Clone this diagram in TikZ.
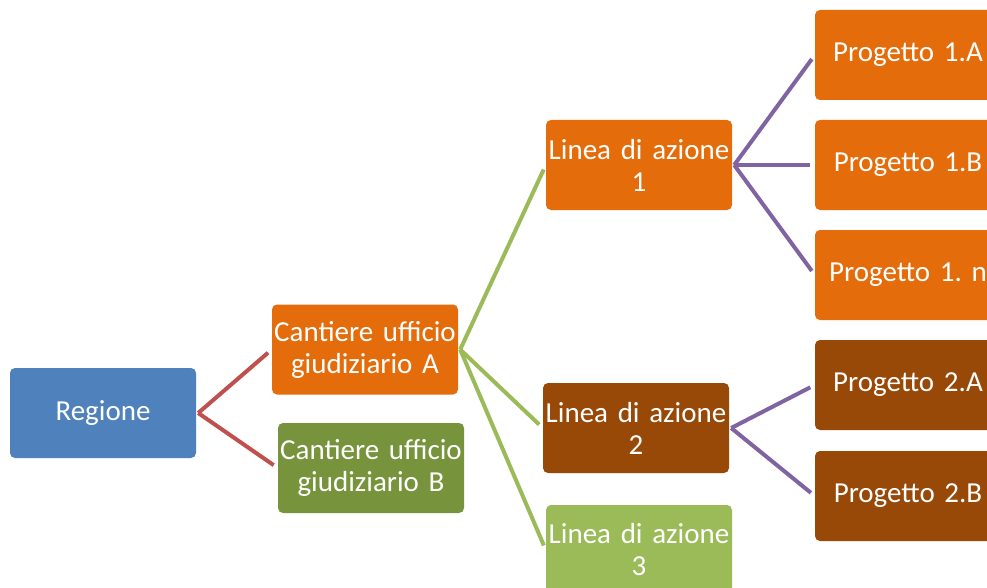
\documentclass[tikz,border=0pt]{standalone}
\usepackage{fontspec}
\setmainfont{Carlito}
\frenchspacing
\definecolor{regblue}{HTML}{4F81BD}
\definecolor{orangeA}{HTML}{E46C0A}
\definecolor{brownB}{HTML}{984807}
\definecolor{greenB}{HTML}{77933C}
\definecolor{lightgreen}{HTML}{9BBB59}
\definecolor{redline}{HTML}{C0504D}
\definecolor{purpleline}{HTML}{8064A2}
\begin{document}
\begin{tikzpicture}[x=1pt,y=-1pt,
  box/.style={rounded corners=5pt,minimum width=186pt,minimum height=90pt,inner sep=0pt,
    text width=184pt,align=center,text=white,font=\fontsize{29}{32}\selectfont},
  link/.style={line width=4pt,shorten >=5pt}]
\useasboundingbox (0,0) rectangle (987,588);
\clip (0,0) rectangle (987,588);

% the boxes
\node[box,fill=regblue] (reg) at (103,413) {Regione};
\node[box,fill=orangeA] (caA) at (365,349.5) {Cantiere ufficio\\giudiziario A};
\node[box,fill=greenB] (caB) at (371,468) {Cantiere ufficio\\giudiziario B};
\node[box,fill=orangeA] (lin1) at (639,165) {Linea di azione\\1};
\node[box,fill=brownB] (lin2) at (636,428) {Linea di azione\\2};
\node[box,fill=lightgreen] (lin3) at (639,550) {Linea di azione\\3};

\foreach \name/\y/\txt/\col in {p1a/55/1.A/orangeA,p1b/165/1.B/orangeA,p1n/275/1. n/orangeA,p2a/385/2.A/brownB,p2b/496/2.B/brownB}
\node[box,fill=\col] (\name) at (908,\y) {Progetto \txt};

% the connectors
\foreach \a/\b/\col in {reg/caA/redline,reg/caB/redline,caA/lin1/lightgreen,caA/lin2/lightgreen,caA/lin3/lightgreen,lin1/p1a/purpleline,lin1/p1b/purpleline,lin1/p1n/purpleline,lin2/p2a/purpleline,lin2/p2b/purpleline}
\draw[link,\col] ([xshift=2pt]\a.east) -- (\b.west);

\end{tikzpicture}
\end{document}
